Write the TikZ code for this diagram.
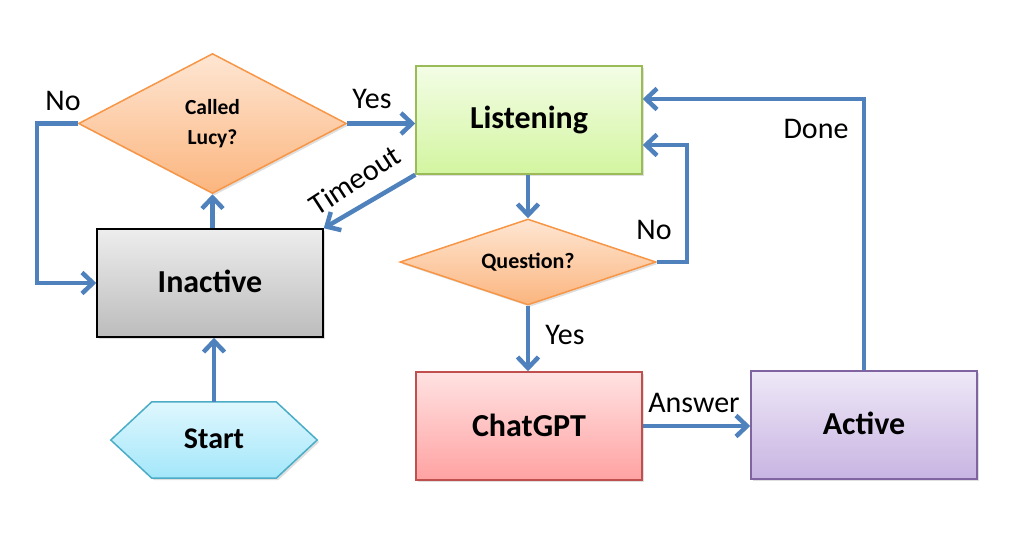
\documentclass[tikz,border=0pt]{standalone}
\usepackage{fontspec}
\setmainfont{Carlito}
\usetikzlibrary{arrows.meta,shapes.geometric,shadows,calc,backgrounds}
\definecolor{arrblue}{HTML}{4F81BD}
\definecolor{orgB}{HTML}{F79646}
\definecolor{orgT}{HTML}{FEE6D3}
\definecolor{orgD}{HTML}{FBB57E}
\definecolor{grnB}{HTML}{9BBB59}
\definecolor{grnT}{HTML}{F3FDE6}
\definecolor{grnD}{HTML}{D3F5A0}
\definecolor{redB}{HTML}{C0504D}
\definecolor{redT}{HTML}{FFE2E2}
\definecolor{redD}{HTML}{FFA2A2}
\definecolor{purB}{HTML}{8064A2}
\definecolor{purT}{HTML}{EEE8F7}
\definecolor{purD}{HTML}{C8B4E2}
\definecolor{cyaB}{HTML}{4BACC6}
\definecolor{cyaT}{HTML}{DFF7FE}
\definecolor{cyaD}{HTML}{A3E7FA}
\definecolor{gryT}{HTML}{EDEDED}
\definecolor{gryD}{HTML}{BCBCBC}
\tikzset{
  shd/.style={drop shadow={shadow xshift=2pt,shadow yshift=-2pt,opacity=0.25}},
  boxst/.style={rectangle,minimum width=226pt,minimum height=108pt,line width=1.5pt,shd,
    font=\fontsize{32}{36}\selectfont\bfseries,inner sep=0pt},
  dia/.style={diamond,draw=orgB,line width=1.5pt,top color=orgT,bottom color=orgD,shd,
    font=\fontsize{21.5}{30}\selectfont\bfseries,inner sep=0pt,align=center},
  arr/.style={draw=arrblue,line width=4.5pt,-{Straight Barb[length=11pt,width=21pt]}},
  lbl/.style={font=\fontsize{30}{34}\selectfont,inner sep=0pt},
}
\begin{document}
\begin{tikzpicture}[x=1pt,y=-1pt]
\useasboundingbox (0,0) rectangle (1022,542);
% nodes
\node[dia,shape aspect=1.91,minimum width=268pt,minimum height=140pt] (lucy) at (212.5,123.5) {\raisebox{-3pt}{\begin{tabular}{@{}c@{}}Called\\Lucy?\end{tabular}}};
\node[boxst,draw=black,top color=gryT,bottom color=gryD] (inactive) at (210,283) {\raisebox{3pt}{Inactive}};
\node[boxst,draw=grnB,top color=grnT,bottom color=grnD] (listening) at (529,120) {Listening};
\node[dia,shape aspect=2.98,minimum width=256pt,minimum height=86pt,font=\fontsize{22}{26}\selectfont\bfseries] (question) at (528,262) {Question?};
\node[boxst,draw=redB,top color=redT,bottom color=redD] (chatgpt) at (529,426) {\raisebox{2pt}{ChatGPT}};
\node[boxst,draw=purB,top color=purT,bottom color=purD] (active) at (864,425) {\raisebox{3pt}{Active}};
\node[rectangle,minimum width=206pt,minimum height=76pt,inner sep=0pt,
  font=\fontsize{30}{34}\selectfont\bfseries] (start) at (214,440) {\raisebox{2pt}{Start}};
\begin{scope}[on background layer]
\path[draw=cyaB,line width=1.5pt,top color=cyaT,bottom color=cyaD,shd]
  (start.west) -- ($(start.north west)+(41,0)$) -- ($(start.north east)+(-41,0)$)
  -- (start.east) -- ($(start.south east)+(-41,0)$) -- ($(start.south west)+(41,0)$) -- cycle;
\end{scope}
% connectors
\draw[arr] (lucy.south |- inactive.north) -- (lucy.south);
\draw[arr] (lucy.west) -- ++(-41,0) |- (inactive.west);
\draw[arr] (lucy.east) -- (listening.west |- lucy.east);
\draw[arr] (listening.south west) -- (inactive.north east);
\draw[arr] (question.north |- listening.south) -- (question.north);
\draw[arr] (question.east) -- ++(30,0) |- ($(listening.east)+(0,25)$);
\draw[arr] (question.south) -- (question.south |- chatgpt.north);
\draw[arr] (chatgpt.east) -- (chatgpt.east -| active.west);
\draw[arr] (active.north) |- ($(listening.east)+(0,-21)$);
\draw[arr] (start.north) -- (start.north |- inactive.south);
% labels
\node[lbl] (lno) at (63,101) {No};
\node[lbl] (lyes) at (372,99) {Yes};
\node[lbl,rotate=33] (ltime) at (355,180) {Timeout};
\node[lbl] (qno) at (654,230) {No};
\node[lbl] (qyes) at (565,335) {Yes};
\node[lbl] (lans) at (694,403) {Answer};
\node[lbl] (ldone) at (816,129) {Done};
\end{tikzpicture}
\end{document}
